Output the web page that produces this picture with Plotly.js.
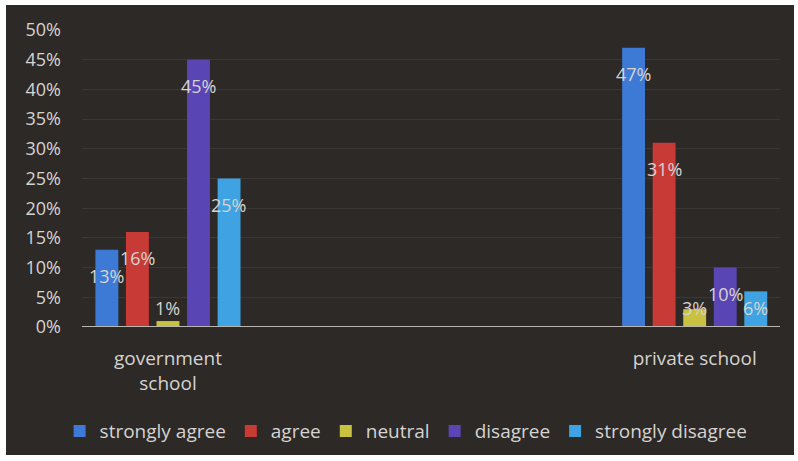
<!DOCTYPE html>
<html>
<head>
<meta charset="utf-8">
<script src="https://cdn.plot.ly/plotly-3.0.1.min.js"></script>
<style>
html,body{margin:0;padding:0;background:#ffffff;width:798px;height:461px;overflow:hidden;}
#chart{position:absolute;left:6px;top:5px;width:788px;height:450px;}
</style>
</head>
<body>
<div id="chart"></div>
<script>
const categories = ["government<br>school", "private school"];
const seriesNames = ["strongly agree", "agree", "neutral", "disagree", "strongly disagree"];
const stronglyAgree = [13, 47];
const agree = [16, 31];
const neutral = [1, 3];
const disagree = [45, 10];
const stronglyDisagree = [25, 6];
const yTickVals = [0, 5, 10, 15, 20, 25, 30, 35, 40, 45, 50];
const yTickText = ["0%", "5%", "10%", "15%", "20%", "25%", "30%", "35%", "40%", "45%", "50%"];

const seriesValues = [stronglyAgree, agree, neutral, disagree, stronglyDisagree];
const colors = ["#3d7ad6", "#c83a36", "#c8c23e", "#5a45b5", "#3fa2e2"];
const xIdx = categories.map((c, i) => i);

const FONT = "'Open Sans', Lato, sans-serif";
const LABEL = "#d6d3d0";

const traces = seriesNames.map((name, s) => ({
  type: "bar",
  name: name,
  x: xIdx,
  y: seriesValues[s],
  marker: {color: colors[s], line: {width: 0}},
  hoverinfo: "skip"
}));

const pitch = 0.0579;
const annotations = [];
seriesValues.forEach((vals, s) => {
  vals.forEach((v, c) => {
    annotations.push({
      x: xIdx[c] + (s - 2) * pitch,
      y: Math.max(v - 4.4, 3.2),
      xref: "x", yref: "y",
      text: v + "%",
      showarrow: false,
      font: {family: FONT, size: 18, color: LABEL},
      xanchor: "center", yanchor: "middle"
    });
  });
});

const layout = {
  width: 788, height: 450,
  paper_bgcolor: "#2c2927",
  plot_bgcolor: "#2c2927",
  margin: {l: 76, r: 14, t: 25, b: 128, autoexpand: false},
  barmode: "group",
  bargap: 0.71,
  bargroupgap: 0.25,
  showlegend: true,
  legend: {
    orientation: "h",
    xref: "container", yref: "container",
    x: 0.068, xanchor: "left",
    y: 0.053, yanchor: "middle",
    font: {family: FONT, size: 19, color: LABEL},
    itemwidth: 30,
    bgcolor: "rgba(0,0,0,0)"
  },
  xaxis: {
    range: [-0.1632, 1.162],
    tickvals: xIdx,
    ticktext: categories,
    showgrid: false,
    zeroline: false,
    showline: false,
    ticks: "",
    automargin: false,
    ticklabelstandoff: 18,
    tickfont: {family: FONT, size: 19, color: LABEL},
    fixedrange: true
  },
  yaxis: {
    range: [0, 50],
    tickvals: yTickVals,
    ticktext: yTickText,
    showgrid: true,
    gridcolor: "rgba(255,255,255,0.07)",
    gridwidth: 1,
    zeroline: false,
    showline: false,
    ticks: "",
    automargin: false,
    ticklabelstandoff: 20,
    tickfont: {family: FONT, size: 18, color: LABEL},
    fixedrange: true
  },
  shapes: [{
    type: "line", xref: "paper", yref: "y",
    x0: 0, x1: 1, y0: 0, y1: 0,
    line: {color: "#b9b6b2", width: 2}
  }],
  annotations: annotations
};

Plotly.newPlot("chart", traces, layout, {displayModeBar: false, staticPlot: true});
</script>
</body>
</html>
